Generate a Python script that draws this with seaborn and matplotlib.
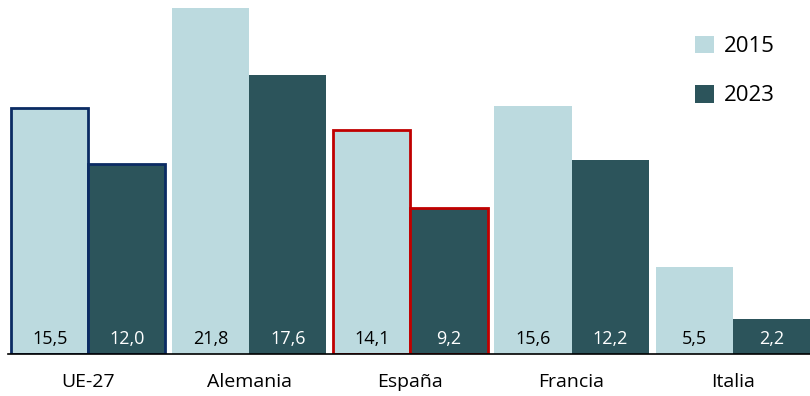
import pandas as pd
import matplotlib.pyplot as plt
import seaborn as sns

countries = ['UE-27', 'Alemania', 'España', 'Francia', 'Italia']
years = ['2015', '2023']
vals_2015 = [15.5, 21.8, 14.1, 15.6, 5.5]
vals_2023 = [12.0, 17.6, 9.2, 12.2, 2.2]

df = pd.DataFrame({
    'País': countries * 2,
    'Año': [years[0]] * 5 + [years[1]] * 5,
    'Valor': vals_2015 + vals_2023,
})

light = '#bcdadf'
dark = '#2c545b'

sns.set_style("white")
plt.rcParams['font.family'] = ['Open Sans', 'DejaVu Sans']
plt.rcParams['text.color'] = 'black'
plt.rcParams['xtick.color'] = 'black'

fig = plt.figure(figsize=(8.1, 3.96), dpi=100)
ax = fig.add_axes([0.01, 0.106, 0.99, 0.874])
sns.barplot(data=df, x='País', y='Valor', hue='Año', order=countries,
            hue_order=years, palette=[light, dark], width=0.957, gap=0,
            saturation=1, linewidth=0, ax=ax)

# outlines for EU and Spain
outline = {0: '#0b2b63', 2: '#c00000'}
for cont in ax.containers:
    for i, bar in enumerate(cont):
        if i in outline:
            bar.set_edgecolor(outline[i])
            bar.set_linewidth(2)

# value labels at the bottom of each bar
for cont, col in zip(ax.containers, ['black', 'white']):
    labels = [f'{v:.1f}'.replace('.', ',') for v in cont.datavalues]
    for bar, lab in zip(cont, labels):
        ax.text(bar.get_x() + bar.get_width() / 2, 0.35, lab,
                ha='center', va='bottom', color=col, fontsize=13)

ax.set_xlim(-0.497, 4.48)
ax.set_ylim(0, 21.8)
ax.set_xlabel('')
ax.set_ylabel('')
ax.set_yticks([])
ax.tick_params(axis='x', length=0, labelsize=14, pad=14, labelcolor='black')
for s in ['top', 'right', 'left']:
    ax.spines[s].set_visible(False)
ax.spines['bottom'].set_color('black')
ax.spines['bottom'].set_linewidth(1.2)

leg = ax.legend(loc='upper right', bbox_to_anchor=(0.975, 0.965), frameon=False,
                fontsize=16, handlelength=0.85, handleheight=0.85,
                labelspacing=1.25, handletextpad=0.45, borderaxespad=0.3)
for t in leg.get_texts():
    t.set_color('black')

plt.savefig('out.png', dpi=100)
